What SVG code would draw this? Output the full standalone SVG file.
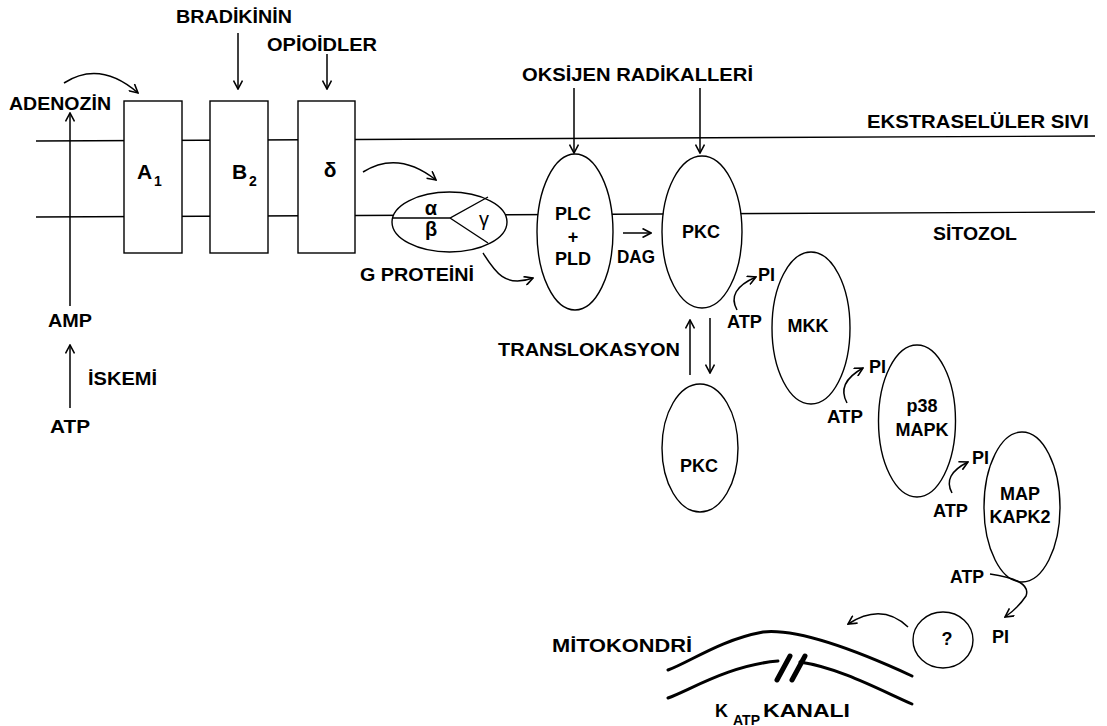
<svg xmlns="http://www.w3.org/2000/svg" width="1107" height="726" viewBox="0 0 1107 726">
<defs>
<style>
.t{font-family:"Liberation Sans",Arial,sans-serif;font-weight:bold;font-size:18px;fill:#000}
.c{text-anchor:middle}
.ln{fill:none;stroke:#000;stroke-width:1.4}
.nd{fill:#fff;stroke:#000;stroke-width:1.4}
.ar{fill:none;stroke:#000;stroke-width:1.5;marker-end:url(#ah)}
.mito{fill:none;stroke:#000;stroke-width:3;stroke-linecap:round}
</style>
<marker id="ah" viewBox="0 0 10 10" refX="9" refY="5" markerWidth="10" markerHeight="10" markerUnits="userSpaceOnUse" orient="auto">
<path d="M0.5,0.5 L9,5 L0.5,9.5" fill="none" stroke="#000" stroke-width="1.6"/>
</marker>
</defs>
<rect width="1107" height="726" fill="#fff"/>

<g id="membrane">
<line class="ln" x1="36" y1="141" x2="1095" y2="136"/>
<line class="ln" x1="36" y1="217" x2="1095" y2="212"/>
<text class="t" x="867" y="128" textLength="222" lengthAdjust="spacingAndGlyphs">EKSTRASELÜLER SIVI</text>
<text class="t" x="933" y="240" textLength="84" lengthAdjust="spacingAndGlyphs">SİTOZOL</text>
</g>

<g id="node-A1">
<rect class="nd" x="124" y="101" width="58" height="152"/>
<text class="t" x="137" y="179" style="font-size:21px">A</text>
<text class="t" x="154" y="186" style="font-size:14px">1</text>
</g>
<g id="node-B2">
<rect class="nd" x="210" y="101" width="58" height="152"/>
<text class="t" x="232" y="179" style="font-size:21px">B</text>
<text class="t" x="249" y="186" style="font-size:14px">2</text>
</g>
<g id="node-delta">
<rect class="nd" x="298" y="101" width="57" height="152"/>
<text class="t c" x="330" y="177" style="font-size:21px">δ</text>
</g>

<g id="node-gprotein">
<ellipse class="nd" cx="449.5" cy="222" rx="57.5" ry="30"/>
<path class="ln" d="M392,218 L450,218 L488,197 M450,218 L488,243"/>
<text class="t c" x="431" y="215" style="font-size:20px">α</text>
<text class="t c" x="431" y="236" style="font-size:20px">β</text>
<text class="t c" x="484" y="226" style="font-size:20px;font-weight:normal">γ</text>
<text class="t" x="360" y="281" textLength="114" lengthAdjust="spacingAndGlyphs">G PROTEİNİ</text>
</g>

<g id="node-plc">
<ellipse class="nd" cx="575" cy="232" rx="38" ry="78"/>
<text class="t c" x="573" y="220">PLC</text>
<text class="t c" x="573" y="243">+</text>
<text class="t c" x="573" y="265">PLD</text>
</g>

<g id="node-pkc">
<ellipse class="nd" cx="702" cy="232" rx="40" ry="76"/>
<text class="t c" x="701" y="238">PKC</text>
</g>

<g id="node-pkc2">
<ellipse class="nd" cx="700" cy="448" rx="38" ry="64"/>
<text class="t c" x="699" y="472">PKC</text>
</g>

<g id="node-mkk">
<ellipse class="nd" cx="811" cy="328" rx="39" ry="76"/>
<text class="t c" x="808" y="332">MKK</text>
</g>

<g id="node-p38">
<ellipse class="nd" cx="917" cy="421" rx="38.5" ry="76"/>
<text class="t c" x="922" y="412">p38</text>
<text class="t c" x="922" y="436">MAPK</text>
</g>

<g id="node-mapkapk2">
<ellipse class="nd" cx="1022" cy="507" rx="38" ry="75"/>
<text class="t c" x="1020" y="500">MAP</text>
<text class="t c" x="1020" y="523">KAPK2</text>
</g>

<g id="node-unknown">
<ellipse class="nd" cx="943" cy="640" rx="30" ry="28"/>
<text class="t c" x="947" y="645">?</text>
</g>

<g id="node-mitochondria">
<path class="mito" d="M668,670 C690,662 720,640 763,632 C800,628 860,652 912,676"/>
<path class="mito" d="M668,698 C690,690 730,665 778,661"/>
<path class="mito" d="M800,662 C840,668 880,690 912,704"/>
<line x1="777" y1="680" x2="790" y2="656" stroke="#000" stroke-width="5" stroke-linecap="round"/>
<line x1="792" y1="680" x2="805" y2="656" stroke="#000" stroke-width="5" stroke-linecap="round"/>
<text class="t" x="552" y="652" textLength="140" lengthAdjust="spacingAndGlyphs">MİTOKONDRİ</text>
<text class="t" x="715" y="717">K</text>
<text class="t" x="733" y="725" style="font-size:14px" textLength="27" lengthAdjust="spacingAndGlyphs">ATP</text>
<text class="t" x="763" y="717" textLength="87" lengthAdjust="spacingAndGlyphs">KANALI</text>
</g>

<g id="labels">
<text class="t" x="9" y="110" textLength="102" lengthAdjust="spacingAndGlyphs">ADENOZİN</text>
<text class="t" x="176" y="23" textLength="116" lengthAdjust="spacingAndGlyphs">BRADİKİNİN</text>
<text class="t" x="267" y="51" textLength="110" lengthAdjust="spacingAndGlyphs">OPİOİDLER</text>
<text class="t" x="522" y="81" textLength="231" lengthAdjust="spacingAndGlyphs">OKSİJEN RADİKALLERİ</text>
<text class="t" x="48" y="327" textLength="44" lengthAdjust="spacingAndGlyphs">AMP</text>
<text class="t" x="50" y="433" textLength="40" lengthAdjust="spacingAndGlyphs">ATP</text>
<text class="t" x="88" y="385" textLength="69" lengthAdjust="spacingAndGlyphs">İSKEMİ</text>
<text class="t" x="617" y="263" textLength="38" lengthAdjust="spacingAndGlyphs">DAG</text>
<text class="t" x="498" y="356" textLength="182" lengthAdjust="spacingAndGlyphs">TRANSLOKASYON</text>
<text class="t" x="727" y="328" textLength="35" lengthAdjust="spacingAndGlyphs">ATP</text>
<text class="t" x="758" y="281">PI</text>
<text class="t" x="827" y="423" textLength="36" lengthAdjust="spacingAndGlyphs">ATP</text>
<text class="t" x="869" y="373">PI</text>
<text class="t" x="933" y="517" textLength="35" lengthAdjust="spacingAndGlyphs">ATP</text>
<text class="t" x="972" y="464">PI</text>
<text class="t" x="950" y="583" textLength="34" lengthAdjust="spacingAndGlyphs">ATP</text>
<text class="t" x="992" y="643">PI</text>
</g>

<g id="connectors">
<path class="ar" d="M70,306 L70,113"/>
<path class="ar" d="M70,408 L70,345"/>
<path class="ar" d="M64,83 Q100,60 138,93"/>
<path class="ar" d="M238,33 L238,89"/>
<path class="ar" d="M327,54 L327,89"/>
<path class="ar" d="M363,172 Q398,150 436,180"/>
<path class="ar" d="M483,253 C495,272 505,288 533,278"/>
<path class="ar" d="M574,88 L574,153"/>
<path class="ar" d="M700,88 L700,153"/>
<path class="ar" d="M623,233 L651,233"/>
<path class="ar" d="M690,375 L690,320"/>
<path class="ar" d="M710,318 L710,373"/>
<path class="ar" d="M737,310 Q726,290 756,277"/>
<path class="ar" d="M847,403 Q836,383 863,368"/>
<path class="ar" d="M952,493 Q942,475 968,462"/>
<path class="ar" d="M990,574 Q1032,580 1026,596 Q1018,608 1005,617"/>
<path class="ar" d="M908,627 Q882,602 848,624"/>
</g>
</svg>
